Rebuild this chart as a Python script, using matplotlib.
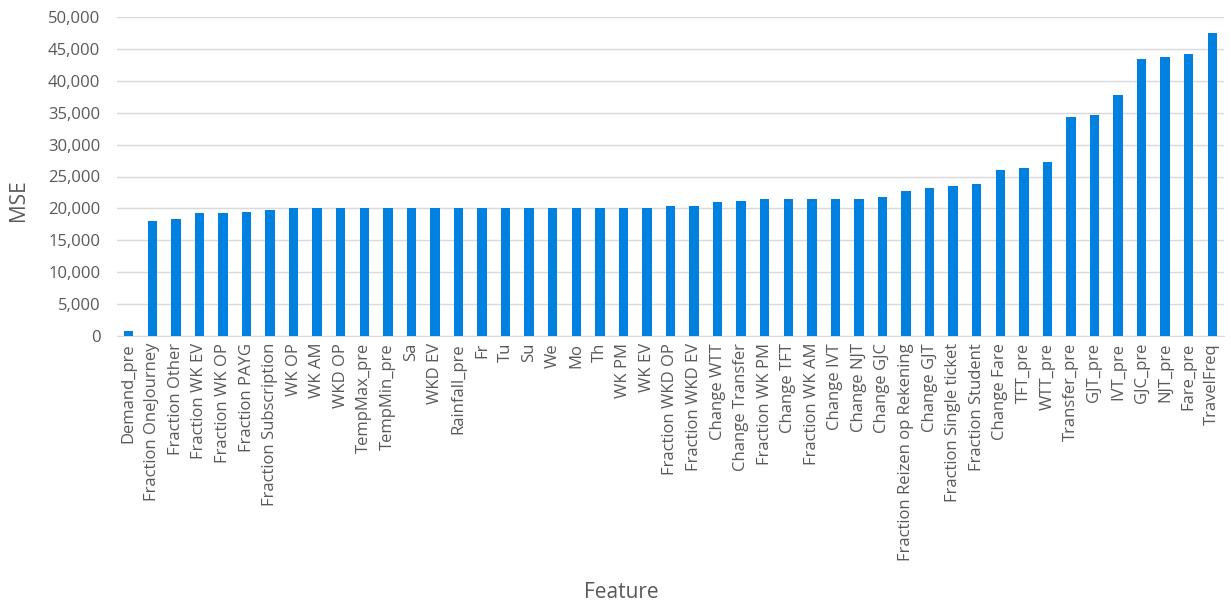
import matplotlib.pyplot as plt
import matplotlib.ticker as ticker

features = ["Demand_pre", "Fraction OneJourney", "Fraction Other", "Fraction WK EV",
            "Fraction WK OP", "Fraction PAYG", "Fraction Subscription", "WK OP", "WK AM",
            "WKD OP", "TempMax_pre", "TempMin_pre", "Sa", "WKD EV", "Rainfall_pre", "Fr",
            "Tu", "Su", "We", "Mo", "Th", "WK PM", "WK EV", "Fraction WKD OP",
            "Fraction WKD EV", "Change WTT", "Change Transfer", "Fraction WK PM",
            "Change TFT", "Fraction WK AM", "Change IVT", "Change NJT", "Change GJC",
            "Fraction Reizen op Rekening", "Change GJT", "Fraction Single ticket",
            "Fraction Student", "Change Fare", "TFT_pre", "WTT_pre", "Transfer_pre",
            "GJT_pre", "IVT_pre", "GJC_pre", "NJT_pre", "Fare_pre", "TravelFreq"]
mse = [800, 18100, 18400, 19300, 19300, 19500, 19800, 20000, 20100,
       20100, 20100, 20100, 20100, 20100, 20100, 20100,
       20100, 20100, 20100, 20100, 20100, 20100, 20100, 20400,
       20400, 21000, 21200, 21400,
       21400, 21500, 21500, 21500, 21800,
       22800, 23200, 23500,
       23800, 26000, 26300, 27300, 34300,
       34600, 37800, 43400, 43700, 44200, 47500]

plt.rcParams['font.family'] = ['Open Sans', 'DejaVu Sans']
grey = "#595959"

fig = plt.figure(figsize=(12.31, 6.02), dpi=100)
ax = fig.add_axes([117 / 1231, 1 - 336 / 602, (1224 - 117) / 1231, (336 - 17) / 602])

ax.bar(range(len(features)), mse, width=0.4, color="#0080DF", zorder=3)

ax.set_ylim(0, 50000)
ax.set_xlim(-0.5, len(features) - 0.5)
ax.yaxis.set_major_locator(ticker.MultipleLocator(5000))
ax.yaxis.set_major_formatter(ticker.StrMethodFormatter("{x:,.0f}"))
ax.grid(axis="y", color="#D9D9D9", linewidth=1, zorder=0)
for s in ["top", "right", "left"]:
    ax.spines[s].set_visible(False)
ax.spines["bottom"].set_color("#D9D9D9")

ax.set_xticks(range(len(features)))
ax.set_xticklabels(features, rotation=90, fontsize=12, color=grey)
ax.tick_params(axis="both", length=0, colors=grey)
ax.tick_params(axis="y", labelsize=12, pad=12)
ax.tick_params(axis="x", pad=5)

ax.set_ylabel("MSE", fontsize=15, color=grey, va="center")
ax.set_xlabel("Feature", fontsize=15, color=grey, va="center")
ax.yaxis.set_label_coords((19 - 117) / (1224 - 117), (336 - 200) / (336 - 17))
ax.xaxis.set_label_coords((621 - 117) / (1224 - 117), (336 - 592) / (336 - 17))

plt.savefig("out.png", dpi=100)
